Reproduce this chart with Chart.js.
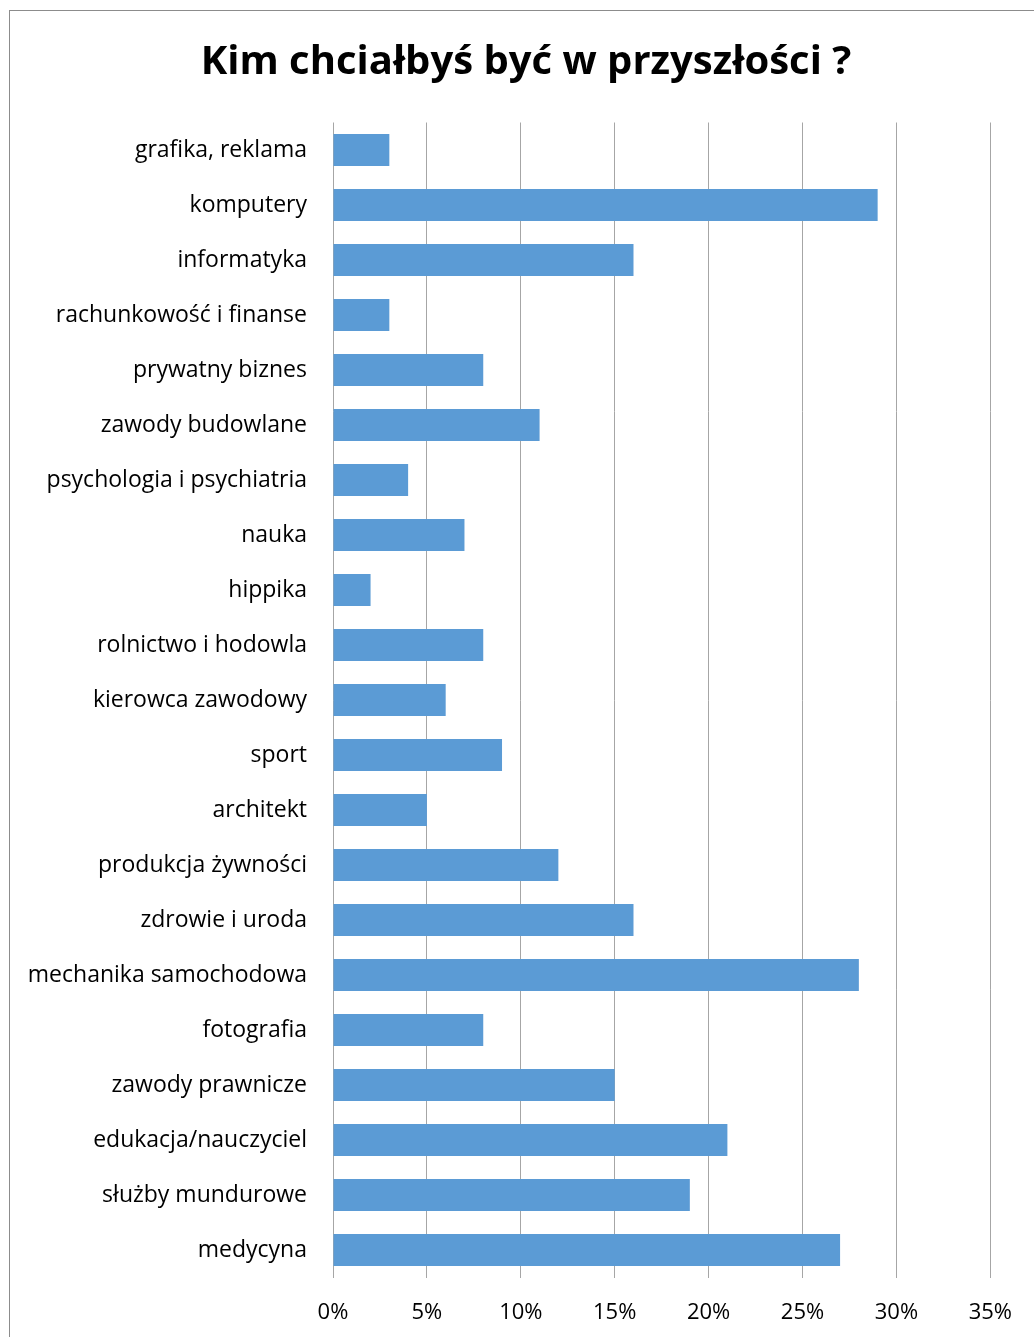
<!DOCTYPE html>
<html>
<head>
<meta charset="utf-8">
<script src="https://cdn.jsdelivr.net/npm/chart.js@4/dist/chart.umd.min.js"></script>
<style>
  html, body { margin: 0; padding: 0; background: #fff; }
  #wrap { position: relative; width: 1034px; height: 1337px; overflow: hidden; }
  #frame { position: absolute; left: 9px; top: 10px; width: 1100px; height: 1400px;
           border-left: 1px solid #8c8c8c; border-top: 1px solid #8c8c8c; }
  #chart { position: absolute; left: 0; top: 0; }
</style>
</head>
<body>
<div id="wrap">
  <div id="frame"></div>
  <canvas id="chart" width="1034" height="1337"></canvas>
</div>
<script>
const titleText = 'Kim chciałbyś być w przyszłości ?';

const categories = [
  'grafika, reklama', 'komputery', 'informatyka', 'rachunkowość i finanse',
  'prywatny biznes', 'zawody budowlane', 'psychologia i psychiatria', 'nauka',
  'hippika', 'rolnictwo i hodowla', 'kierowca zawodowy', 'sport', 'architekt',
  'produkcja żywności', 'zdrowie i uroda', 'mechanika samochodowa', 'fotografia',
  'zawody prawnicze', 'edukacja/nauczyciel', 'służby mundurowe', 'medycyna'
];

// percent of answers
const values = [3, 29, 16, 3, 8, 11, 4, 7, 2, 8, 6, 9, 5, 12, 16, 28, 8, 15, 21, 19, 27];

const xMin = 0, xMax = 35, xStep = 5;

const font = "'Open Sans', 'Liberation Sans', sans-serif";

// title is drawn by hand so it can sit off the plot's centre like the original
const titlePlugin = {
  id: 'titleText',
  afterDraw(chart) {
    const ctx = chart.ctx;
    ctx.save();
    ctx.font = 'bold 40px ' + font;
    ctx.fillStyle = '#000';
    ctx.textAlign = 'center';
    ctx.textBaseline = 'middle';
    ctx.fillText(titleText, 526, 63);
    ctx.restore();
  }
};

new Chart(document.getElementById('chart'), {
  type: 'bar',
  data: {
    labels: categories,
    datasets: [{
      data: values,
      backgroundColor: '#5b9bd5',
      borderWidth: 0,
      barPercentage: 0.58,
      categoryPercentage: 1
    }]
  },
  options: {
    indexAxis: 'y',
    responsive: false,
    animation: false,
    layout: { padding: { left: 0, right: 43, top: 122.5, bottom: 0 } },
    plugins: {
      legend: { display: false },
      tooltip: { enabled: false },
      title: { display: false }
    },
    scales: {
      x: {
        min: xMin, max: xMax,
        ticks: {
          stepSize: xStep,
          color: '#000',
          padding: 22,
          font: { family: font, size: 22 },
          callback: v => v + '%'
        },
        grid: { color: '#a6a6a6', lineWidth: 1, drawTicks: false },
        border: { display: false },
        afterFit: s => { s.height = 59.5; }
      },
      y: {
        ticks: {
          color: '#000',
          padding: 26,
          font: { family: font, size: 23 }
        },
        grid: { display: false, drawTicks: false },
        border: { display: false },
        afterFit: s => { s.width = 333; }
      }
    }
  },
  plugins: [titlePlugin]
});
</script>
</body>
</html>
